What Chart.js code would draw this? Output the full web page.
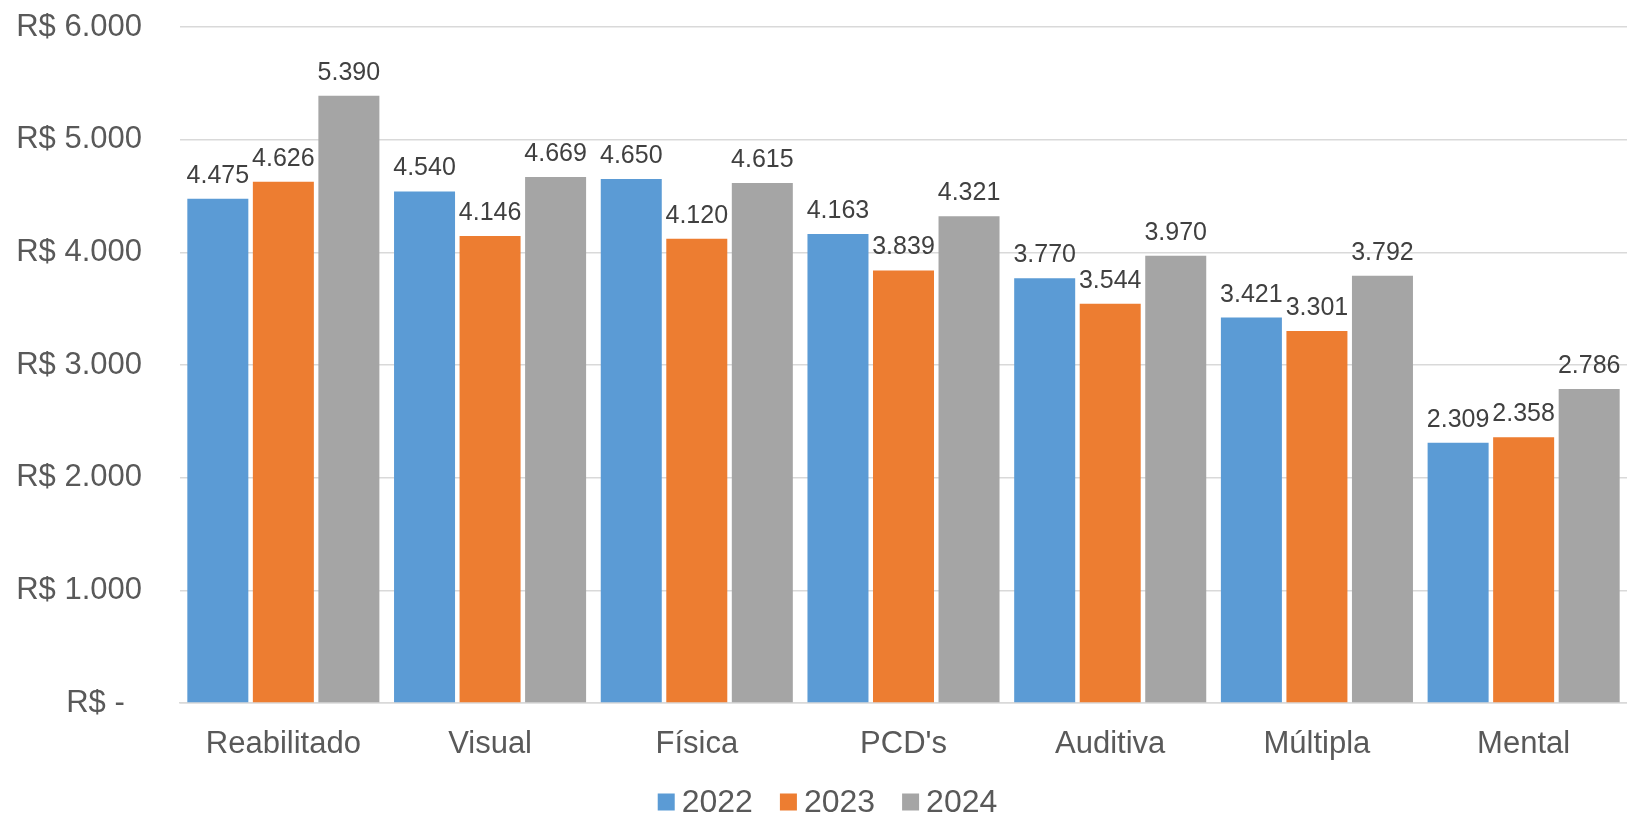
<!DOCTYPE html>
<html>
<head>
<meta charset="utf-8">
<script src="https://cdn.jsdelivr.net/npm/chart.js@4.4.1/dist/chart.umd.min.js"></script>
<style>
  html, body { margin: 0; padding: 0; background: #fff; }
  #wrap { width: 1627px; height: 815px; position: relative; }
</style>
</head>
<body>
<div id="wrap"><canvas id="c" width="1627" height="815"></canvas></div>
<script>
const categories = ["Reabilitado", "Visual", "Física", "PCD's", "Auditiva", "Múltipla", "Mental"];
const seriesNames = ["2022", "2023", "2024"];
const values2022 = [4475, 4540, 4650, 4163, 3770, 3421, 2309];
const values2023 = [4626, 4146, 4120, 3839, 3544, 3301, 2358];
const values2024 = [5390, 4669, 4615, 4321, 3970, 3792, 2786];
const yTicks = [0, 1000, 2000, 3000, 4000, 5000, 6000];

const colors = ["#5B9BD5", "#ED7D31", "#A5A5A5"];
const FONT = "'Liberation Sans', Arial, sans-serif";

function fmt(v) {
  return String(Math.round(v)).replace(/\B(?=(\d{3})+(?!\d))/g, ".");
}

const dataLabels = {
  id: 'dataLabels',
  afterDatasetsDraw(chart) {
    const ctx = chart.ctx;
    ctx.save();
    ctx.font = "25px " + FONT;
    ctx.fillStyle = "#404040";
    ctx.textAlign = "center";
    ctx.textBaseline = "alphabetic";
    chart.data.datasets.forEach((ds, i) => {
      const meta = chart.getDatasetMeta(i);
      meta.data.forEach((el, j) => {
        ctx.fillText(fmt(ds.data[j]), el.x, el.y - 16);
      });
    });
    ctx.restore();
  }
};

const bottomLegend = {
  id: 'bottomLegend',
  afterDraw(chart) {
    const ctx = chart.ctx;
    ctx.save();
    ctx.font = "32px " + FONT;
    const box = 17, gapText = 7, gapItem = 27;
    const items = chart.data.datasets.map(ds => ({ label: ds.label, color: ds.backgroundColor, w: ctx.measureText(ds.label).width }));
    let total = 0;
    items.forEach((it, i) => { total += box + gapText + it.w + (i < items.length - 1 ? gapItem : 0); });
    const cx = chart.width / 2 + 14;
    let x = cx - total / 2;
    const cy = chart.height - 13;
    ctx.textBaseline = "middle";
    ctx.textAlign = "left";
    items.forEach(it => {
      ctx.fillStyle = it.color;
      ctx.fillRect(x, cy - box / 2, box, box);
      x += box + gapText;
      ctx.fillStyle = "#595959";
      ctx.fillText(it.label, x, cy + 1);
      x += it.w + gapItem;
    });
    ctx.restore();
  }
};

const allSeries = [values2022, values2023, values2024];

new Chart(document.getElementById('c'), {
  type: 'bar',
  data: {
    labels: categories,
    datasets: seriesNames.map((n, i) => ({
      label: n,
      data: allSeries[i],
      backgroundColor: colors[i],
      borderWidth: 0,
      categoryPercentage: 0.951,
      barPercentage: 0.931
    }))
  },
  options: {
    responsive: false,
    animation: false,
    devicePixelRatio: 1,
    layout: { padding: { top: 27, right: 0, left: 0, bottom: 54 } },
    plugins: {
      tooltip: { enabled: false },
      legend: { display: false }
    },
    scales: {
      x: {
        afterFit(scale) { scale.height = 58; scale.paddingLeft = 0; scale.paddingRight = 0; },
        grid: { display: false, drawTicks: false },
        border: { display: true, color: "#D9D9D9", width: 1.5 },
        ticks: {
          color: "#595959",
          font: { family: FONT, size: 31 },
          padding: 23
        }
      },
      y: {
        min: 0,
        max: 6000,
        afterBuildTicks(scale) { scale.ticks = yTicks.map(v => ({ value: v })); },
        afterFit(scale) { scale.width = 180; scale.paddingTop = 0; scale.paddingBottom = 0; },
        grid: { color: "#D9D9D9", lineWidth: 1.5, drawTicks: false },
        border: { display: false },
        ticks: {
          color: "#595959",
          font: { family: FONT, size: 31 },
          padding: 38,
          callback: v => v === 0 ? "R$ -  " : "R$ " + fmt(v)
        }
      }
    }
  },
  plugins: [dataLabels, bottomLegend]
});
</script>
</body>
</html>
